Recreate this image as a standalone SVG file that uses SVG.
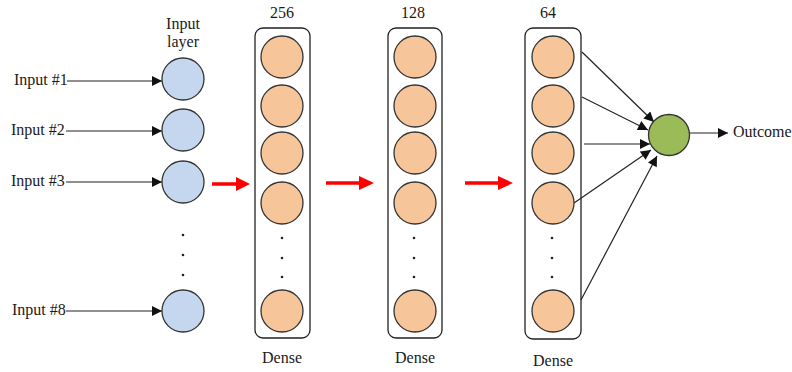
<svg xmlns="http://www.w3.org/2000/svg" width="792" height="372" viewBox="0 0 792 372">
<defs>
<style>
text{font-family:"Liberation Serif","Times New Roman",serif;font-size:16px;fill:#1a1a1a}
.mid{text-anchor:middle}
.in{fill:#c5d7ee;stroke:#333;stroke-width:1.3}
.hid{fill:#f7c59a;stroke:#333;stroke-width:1.3}
.out{fill:#9bbb59;stroke:#333;stroke-width:1.3}
.box{fill:none;stroke:#222;stroke-width:1.3}
.dot{fill:#222}
.ln{stroke:#222;stroke-width:1.2;fill:none}
.red{fill:#ff0000}
</style>
<marker id="ah" viewBox="0 0 10 10" refX="10" refY="5" markerWidth="11" markerHeight="10" markerUnits="userSpaceOnUse" orient="auto">
<path d="M0,0 L10,5 L0,10 Z" fill="#111"/>
</marker>
</defs>

<g id="connectors">
<line class="ln" x1="67" y1="81" x2="162" y2="81" marker-end="url(#ah)"/>
<line class="ln" x1="66" y1="131" x2="162" y2="131" marker-end="url(#ah)"/>
<line class="ln" x1="66" y1="182" x2="162" y2="182" marker-end="url(#ah)"/>
<line class="ln" x1="66" y1="311" x2="162" y2="311" marker-end="url(#ah)"/>
<path class="red" d="M212,182.2 L236,182.2 L236,177 L250,184 L236,191 L236,185.8 L212,185.8 Z"/>
<path class="red" d="M326,181.3 L359,181.3 L359,176 L374,183 L359,190 L359,184.7 L326,184.7 Z"/>
<path class="red" d="M465,181.3 L498,181.3 L498,176 L513,183 L498,190 L498,184.7 L465,184.7 Z"/>
<line class="ln" x1="582" y1="52" x2="654" y2="122" marker-end="url(#ah)"/>
<line class="ln" x1="582" y1="97" x2="648" y2="130" marker-end="url(#ah)"/>
<line class="ln" x1="584" y1="144" x2="650" y2="144" marker-end="url(#ah)"/>
<line class="ln" x1="574" y1="203" x2="651" y2="150" marker-end="url(#ah)"/>
<line class="ln" x1="581" y1="300" x2="657" y2="156" marker-end="url(#ah)"/>
<line class="ln" x1="690" y1="133" x2="728" y2="133" marker-end="url(#ah)"/>
</g>

<g id="input-labels">
<text x="14" y="85">Input #1</text>
<text x="11" y="135">Input #2</text>
<text x="11" y="186">Input #3</text>
<text x="12" y="315">Input #8</text>
</g>

<g id="input-layer">
<text class="mid" x="183" y="29">Input</text>
<text class="mid" x="183" y="47">layer</text>
<circle class="in" cx="183" cy="79" r="21"/>
<circle class="in" cx="183" cy="130" r="21"/>
<circle class="in" cx="183" cy="182" r="21"/>
<circle class="dot" cx="183" cy="235" r="1.3"/>
<circle class="dot" cx="183" cy="255" r="1.3"/>
<circle class="dot" cx="183" cy="275" r="1.3"/>
<circle class="in" cx="183" cy="311" r="21"/>
</g>

<g id="dense-256">
<text class="mid" x="282" y="18">256</text>
<rect class="box" x="255" y="28" width="55" height="310" rx="8"/>
<circle class="hid" cx="282" cy="57" r="21"/>
<circle class="hid" cx="282" cy="106" r="21"/>
<circle class="hid" cx="282" cy="153" r="21"/>
<circle class="hid" cx="282" cy="203" r="21"/>
<circle class="dot" cx="282" cy="238" r="1.3"/>
<circle class="dot" cx="282" cy="258" r="1.3"/>
<circle class="dot" cx="282" cy="277" r="1.3"/>
<circle class="hid" cx="282" cy="311" r="21"/>
<text class="mid" x="282" y="363">Dense</text>
</g>

<g id="dense-128">
<text class="mid" x="413" y="18">128</text>
<rect class="box" x="388" y="28" width="54" height="310" rx="8"/>
<circle class="hid" cx="415" cy="57" r="21"/>
<circle class="hid" cx="415" cy="106" r="21"/>
<circle class="hid" cx="415" cy="153" r="21"/>
<circle class="hid" cx="415" cy="203" r="21"/>
<circle class="dot" cx="414" cy="238" r="1.3"/>
<circle class="dot" cx="414" cy="258" r="1.3"/>
<circle class="dot" cx="414" cy="277" r="1.3"/>
<circle class="hid" cx="415" cy="311" r="21"/>
<text class="mid" x="415" y="363">Dense</text>
</g>

<g id="dense-64">
<text class="mid" x="548" y="18">64</text>
<rect class="box" x="525" y="28" width="56" height="311" rx="8"/>
<circle class="hid" cx="553" cy="57" r="21"/>
<circle class="hid" cx="553" cy="106" r="21"/>
<circle class="hid" cx="553" cy="153" r="21"/>
<circle class="hid" cx="553" cy="203" r="21"/>
<circle class="dot" cx="552" cy="238" r="1.3"/>
<circle class="dot" cx="552" cy="258" r="1.3"/>
<circle class="dot" cx="552" cy="277" r="1.3"/>
<circle class="hid" cx="553" cy="311" r="21"/>
<text class="mid" x="553" y="366">Dense</text>
</g>

<g id="output">
<circle class="out" cx="669" cy="135" r="20.5"/>
<text x="733" y="137">Outcome</text>
</g>
</svg>
